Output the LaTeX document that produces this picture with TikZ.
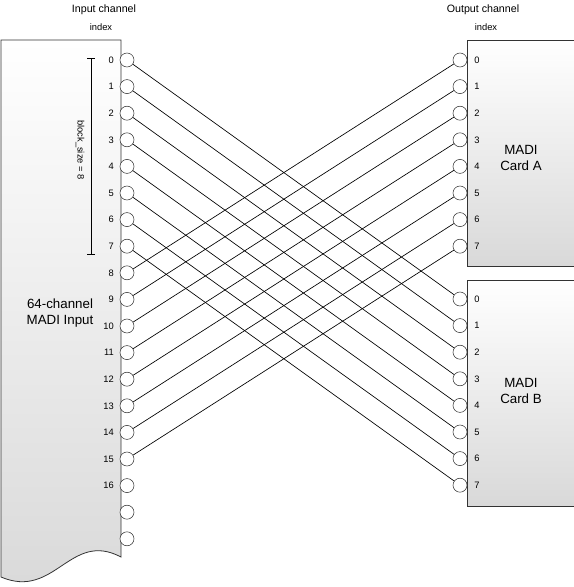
\documentclass[tikz,border=0pt]{standalone}
\usepackage{fontspec}
\setmainfont{Liberation Sans}
\usetikzlibrary{positioning}

\begin{document}
\begin{tikzpicture}[x=0.75pt,y=-0.75pt,
    port/.style={circle,draw=black!80,fill=white,inner sep=0pt,minimum size=10.5pt},
    chan/.style={font=\fontsize{7}{8}\selectfont,inner sep=0pt},
    box/.style={top color=white,bottom color=black!15,draw=black!80,line width=0.6pt}]
  \useasboundingbox (0,0) rectangle (574,587);
  % headings
  \node[font=\fontsize{8}{9}\selectfont] (inhead) at (104,10) {Input channel};
  \node[font=\fontsize{7}{8}\selectfont] (inidx) at (101,27) {index};
  \node[font=\fontsize{8}{9}\selectfont] (outhead) at (483,10) {Output channel};
  \node[font=\fontsize{7}{8}\selectfont] (outidx) at (486,27) {index};
  % input box with torn bottom edge
  \draw[box] (1,40) -- (121,40) -- (121,557)
    .. controls (70,530) and (55,600) .. (1,577) -- cycle;
  \node[font=\fontsize{10}{12}\selectfont,align=center] (inlabel) at (60,313) {64-channel\\MADI Input};
  % output cards
  \draw[box] (467,40) rectangle (576,266);
  \draw[box] (467,280) rectangle (576,506);
  \node[font=\fontsize{10}{12}\selectfont,align=center] (cardA) at (521,158) {MADI\\Card A};
  \node[font=\fontsize{10}{12}\selectfont,align=center] (cardB) at (521,391) {MADI\\Card B};
  % block size marker
  \draw[line width=0.6pt] (87,58) -- (95,58);
  \draw[line width=0.6pt] (91,58) -- (91,254);
  \draw[line width=0.6pt] (87,254) -- (95,254);
  \node[chan,rotate=-90] (block) at (80,150) {block\_size = 8};
  % input ports
  \foreach \i in {0,...,18}
    \node[port] (in\i) at (127,{60+26.6*\i}) {};
  \foreach \i in {0,...,16}
    \node[chan,anchor=east] (inl\i) at (114,{60+26.6*\i}) {\i};
  % output ports
  \foreach \i in {0,...,7} {
    \node[port] (outA\i) at (460,{60+26.6*\i}) {};
    \node[chan,anchor=west] (outAl\i) at (474,{60+26.6*\i}) {\i};
    \node[port] (outB\i) at (460,{299+26.6*\i}) {};
    \node[chan,anchor=west] (outBl\i) at (474,{299+26.6*\i}) {\i};
  }
  % routing
  \foreach \i [evaluate=\i as \j using int(\i+8)] in {0,...,7} {
    \draw[line width=0.5pt] (in\i) -- (outB\i);
    \draw[line width=0.5pt] (in\j) -- (outA\i);
  }
\end{tikzpicture}
\end{document}
